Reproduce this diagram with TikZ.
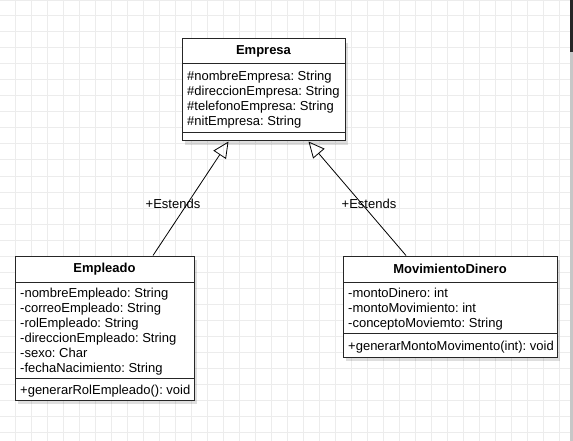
\documentclass[tikz,border=0pt]{standalone}
\usepackage{fontspec}
\setmainfont{Liberation Sans}
\usepackage{tikz}
\usetikzlibrary{arrows.meta,shadows}
\tikzstyle{class box}=[draw=black!85, line width=1pt, fill=white, inner sep=0pt, drop shadow={shadow xshift=3pt, shadow yshift=-4pt, fill=black, opacity=0.13}]
\tikzstyle{class title}=[style=class box, font=\fontsize{13pt}{15pt}\selectfont\bfseries]
\tikzstyle{member list}=[anchor=north west, inner sep=0pt, align=left]
\tikzstyle{edge label}=[inner sep=0pt]
\tikzstyle{extends edge}=[-{Triangle[open, length=16pt, width=15pt]}, draw=black, line width=0.8pt]
\tikzstyle{grid line}=[draw=gray!15, line width=1pt]
\pgfdeclarelayer{nodelayer}
\pgfdeclarelayer{edgelayer}
\pgfsetlayers{main,nodelayer,edgelayer}

\begin{document}
\frenchspacing
\begin{tikzpicture}[x=1pt, y=-1pt, every node/.style={font=\fontsize{13pt}{15pt}\selectfont}]
	\useasboundingbox (0,0) rectangle (573,441);
	\draw [style=grid line, xshift=15pt, step=16pt] (-15,441) grid (558,0);
	\fill [black!85] (570,0) rectangle (573,52);
	\fill [black!22] (570,52) rectangle (573,441);
	\begin{pgfonlayer}{nodelayer}
		% Empresa
		\node [style=class title, minimum width=163pt, minimum height=25pt] (0) at (263.5, 51.5) {Empresa};
		\node [style=class box, minimum width=163pt, minimum height=69pt] (1) at (263.5, 98.5) {};
		\node [style=class box, minimum width=163pt, minimum height=8pt] (2) at (263.5, 137) {};
		\node [style=member list] (3) at (187, 71) {\#nombreEmpresa: String\\\#direccionEmpresa: String\\\#telefonoEmpresa: String\\\#nitEmpresa: String};
		% Empleado
		\node [style=class title, minimum width=179pt, minimum height=26pt] (4) at (104.5, 269) {Empleado};
		\node [style=class box, minimum width=179pt, minimum height=96pt] (5) at (104.5, 330) {};
		\node [style=class box, minimum width=179pt, minimum height=22pt] (6) at (104.5, 389) {};
		\node [style=member list] (7) at (20, 288) {-nombreEmpleado: String\\-correoEmpleado: String\\-rolEmpleado: String\\-direccionEmpleado: String\\-sexo: Char\\-fechaNacimiento: String};
		\node [style=member list] (8) at (20, 384.5) {+generarRolEmpleado(): void};
		% MovimientoDinero
		\node [style=class title, minimum width=214pt, minimum height=26pt] (9) at (450, 269) {MovimientoDinero};
		\node [style=class box, minimum width=214pt, minimum height=51pt] (10) at (450, 307.5) {};
		\node [style=class box, minimum width=214pt, minimum height=24pt] (11) at (450, 345) {};
		\node [style=member list] (12) at (348, 288) {-montoDinero: int\\-montoMovimiento: int\\-conceptoMoviemto: String};
		\node [style=member list] (13) at (348, 340.5) {+generarMontoMovimento(int): void};
		% labels
		\node [style=edge label] (14) at (173, 204) {+Estends};
		\node [style=edge label] (15) at (369, 204) {+Estends};
	\end{pgfonlayer}
	\begin{pgfonlayer}{edgelayer}
		\draw [style=extends edge] ([xshift=48.5pt]4.north) to ([xshift=-35pt]2.south);
		\draw [style=extends edge] ([xshift=-44pt]9.north) to ([xshift=45pt]2.south);
	\end{pgfonlayer}
\end{tikzpicture}
\end{document}
